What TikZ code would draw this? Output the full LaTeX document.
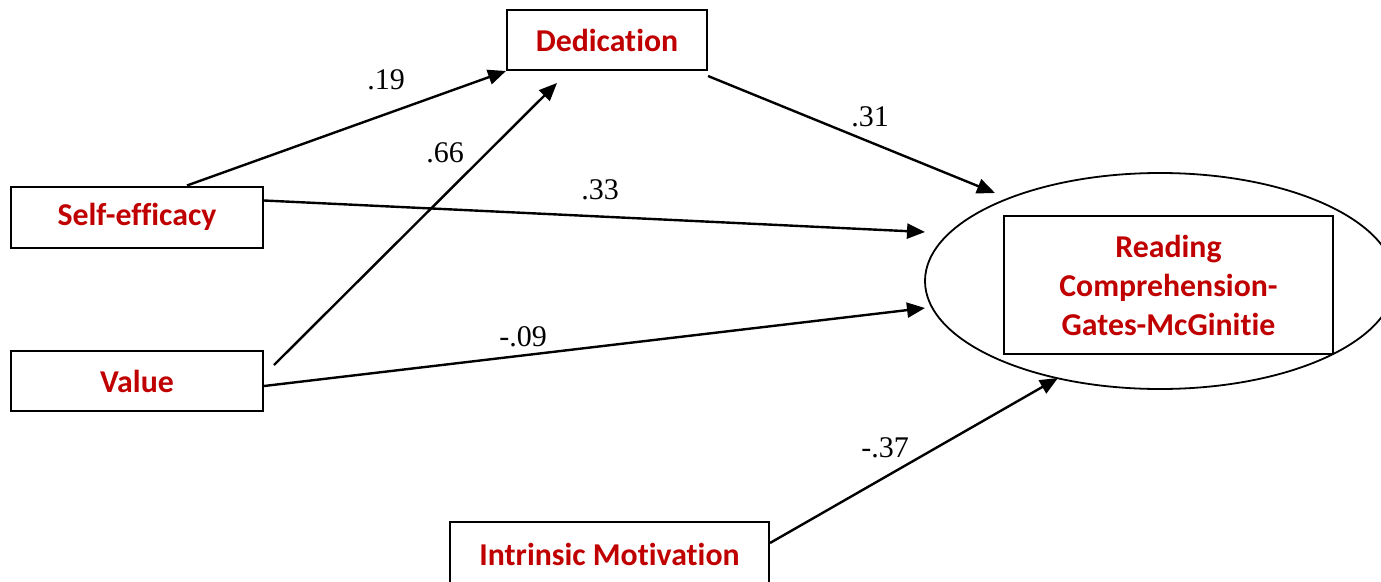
\documentclass[tikz,border=0pt]{standalone}
\usepackage{fontspec}
\setmainfont{Carlito}[Ligatures={NoCommon}]
\newfontfamily\numfont{Liberation Serif}
\usetikzlibrary{shapes.geometric,arrows.meta,calc}
\definecolor{darkred}{HTML}{C00000}
\begin{document}
\begin{tikzpicture}[x=1pt,y=-1pt,
  box/.style={draw=black,line width=2pt,fill=white,inner sep=0pt,font=\fontsize{31.8}{39}\selectfont\bfseries,text=darkred,align=center},
  lbl/.style={font=\numfont\fontsize{30}{34}\selectfont,inner sep=0pt},
  arr/.style={line width=2.4pt,-{Triangle[length=18pt,width=15pt]}}]
\useasboundingbox (0,0) rectangle (1381,581);
% latent ellipse
\node[draw=black,line width=1.8pt,ellipse,inner sep=0pt,minimum width=470pt,minimum height=216pt] (rc) at (1160,281) {};
\node[box,minimum width=329pt,minimum height=138pt] (rcbox) at (1168.5,285) {Reading\\Comprehension-\\Gates-McGinitie};
% boxes
\node[box,minimum width=200pt,minimum height=60pt] (ded) at (607,40) {Dedication};
\node[box,minimum width=252pt,minimum height=61pt] (se) at (137,217) {Self-efficacy};
\node[box,minimum width=252pt,minimum height=60pt] (val) at (137,381) {Value};
\node[box,minimum width=319pt,minimum height=64pt] (im) at (609.5,554) {};
\node[font=\fontsize{31.8}{39}\selectfont\bfseries,text=darkred] (imtxt) at (im.center) {Intrinsic Motivation};
% connector end points
\coordinate (seTop) at ($(se.north west)+(177,0)$);
\coordinate (seRight) at ($(se.north east)+(0,15)$);
\coordinate (valUp) at ($(val.north east)+(10,15)$);
\coordinate (valRight) at ($(val.north east)+(0,36)$);
\coordinate (dedOut) at ($(ded.south east)+(0,5)$);
\coordinate (imOut) at ($(im.north east)+(0,22)$);
\coordinate (dedIn) at ($(ded.south west)+(51,12)$);
\coordinate (rcA) at (995,193);
\coordinate (rcB) at (925,232);
\coordinate (rcC) at (925,308);
\coordinate (rcD) at (1058,378);
% arrows
\draw[arr] (seTop) -- (ded.south west);
\draw[arr] (valUp) -- (dedIn);
\draw[arr] (dedOut) -- (rcA);
\draw[arr] (seRight) -- (rcB);
\draw[arr] (valRight) -- (rcC);
\draw[arr] (imOut) -- (rcD);
% labels
\node[lbl] (l19) at (386,80) {.19};
\node[lbl] (l66) at (445,153) {.66};
\node[lbl] (l31) at (870,117) {.31};
\node[lbl] (l33) at (600,190) {.33};
\node[lbl] (l09) at (523,337) {-.09};
\node[lbl] (l37) at (885,448) {-.37};
\end{tikzpicture}
\end{document}
